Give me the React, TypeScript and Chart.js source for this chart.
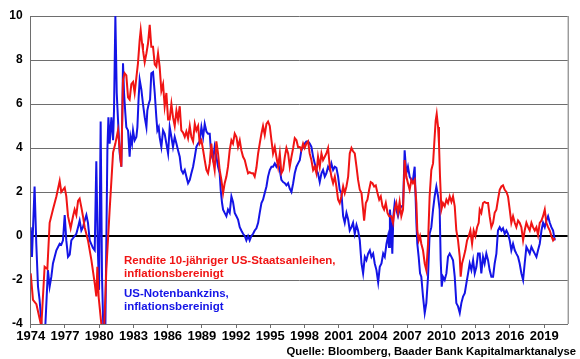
import { useEffect, useRef } from 'react';
import { Chart, registerables } from 'chart.js';
Chart.register(...registerables);

const tickYears = [1974, 1977, 1980, 1983, 1986, 1989, 1992, 1995, 1998, 2001, 2004, 2007, 2010, 2013, 2016, 2019];
const yTicks = [-4, -2, 0, 2, 4, 6, 8, 10];

const redYears = [
  1974.0, 1974.2, 1974.5, 1974.93, 1975.22, 1975.46, 1975.66, 1975.95, 1976.25, 1976.54, 1976.68, 1976.98,
  1977.12, 1977.27, 1977.5, 1977.71, 1977.85, 1978.0, 1978.15, 1978.29, 1978.44, 1978.58, 1978.73, 1979.02,
  1979.32, 1979.61, 1979.75, 1979.84, 1979.96, 1980.19, 1980.43, 1980.63, 1980.92, 1981.22, 1981.42, 1981.65,
  1981.8, 1981.94, 1982.09, 1982.23, 1982.38, 1982.53, 1982.67, 1982.82, 1982.97, 1983.11, 1983.26, 1983.4,
  1983.55, 1983.64, 1983.76, 1983.84, 1983.99, 1984.14, 1984.28, 1984.43, 1984.57, 1984.72, 1984.87, 1985.01,
  1985.16, 1985.3, 1985.45, 1985.6, 1985.74, 1985.89, 1986.04, 1986.18, 1986.33, 1986.47, 1986.62, 1986.77,
  1986.91, 1987.06, 1987.2, 1987.35, 1987.5, 1987.64, 1987.79, 1987.94, 1988.08, 1988.23, 1988.38, 1988.52,
  1988.67, 1988.81, 1988.96, 1989.11, 1989.25, 1989.4, 1989.54, 1989.69, 1989.83, 1989.98, 1990.12, 1990.27,
  1990.42, 1990.56, 1990.71, 1990.86, 1991.0, 1991.15, 1991.29, 1991.44, 1991.59, 1991.73, 1991.88, 1992.03,
  1992.17, 1992.32, 1992.46, 1992.61, 1992.76, 1992.9, 1993.05, 1993.19, 1993.34, 1993.49, 1993.63, 1993.78,
  1993.93, 1994.07, 1994.22, 1994.36, 1994.51, 1994.66, 1994.8, 1994.95, 1995.1, 1995.24, 1995.39, 1995.53,
  1995.68, 1995.83, 1995.97, 1996.12, 1996.27, 1996.41, 1996.56, 1996.7, 1996.85, 1997.0, 1997.14, 1997.29,
  1997.43, 1997.58, 1997.72, 1997.87, 1998.01, 1998.16, 1998.31, 1998.45, 1998.6, 1998.75, 1998.89, 1999.04,
  1999.18, 1999.33, 1999.48, 1999.62, 1999.77, 1999.91, 2000.06, 2000.21, 2000.35, 2000.5, 2000.65, 2000.79,
  2000.94, 2001.08, 2001.23, 2001.38, 2001.52, 2001.67, 2001.82, 2001.96, 2002.11, 2002.25, 2002.4, 2002.55,
  2002.69, 2002.84, 2002.99, 2003.13, 2003.22, 2003.37, 2003.51, 2003.66, 2003.8, 2003.95, 2004.1, 2004.24,
  2004.39, 2004.54, 2004.68, 2004.83, 2004.97, 2005.12, 2005.27, 2005.41, 2005.6, 2005.75, 2005.9, 2006.04,
  2006.19, 2006.33, 2006.48, 2006.63, 2006.77, 2006.92, 2007.06, 2007.21, 2007.36, 2007.5, 2007.65, 2007.8,
  2007.88, 2008.0, 2008.12, 2008.23, 2008.38, 2008.53, 2008.67, 2008.82, 2008.96, 2009.11, 2009.26, 2009.4,
  2009.49, 2009.58, 2009.7, 2009.78, 2009.87, 2009.99, 2010.13, 2010.28, 2010.43, 2010.57, 2010.72, 2010.87,
  2011.01, 2011.16, 2011.3, 2011.45, 2011.6, 2011.68, 2011.8, 2011.95, 2012.09, 2012.24, 2012.39, 2012.53,
  2012.68, 2012.82, 2012.97, 2013.12, 2013.26, 2013.35, 2013.49, 2013.64, 2013.78, 2013.93, 2014.08, 2014.22,
  2014.37, 2014.52, 2014.66, 2014.81, 2014.95, 2015.1, 2015.25, 2015.39, 2015.54, 2015.69, 2015.83, 2015.98,
  2016.12, 2016.27, 2016.42, 2016.56, 2016.71, 2016.85, 2017.0, 2017.15, 2017.29, 2017.44, 2017.59, 2017.73,
  2017.88, 2018.02, 2018.17, 2018.32, 2018.46, 2018.61, 2018.76, 2018.9, 2019.05, 2019.19, 2019.34, 2019.49,
  2019.63, 2019.78, 2019.93,
];
const redValues = [
  -1.7, -2.9, -3.1, -4.1, -1.4, -1.5, 0.6, 1.2, 1.8, 2.5, 2.0, 2.2,
  1.8, 0.9, 0.35, 0.9, 1.2, 0.95, 1.6, 1.7, 1.3, 0.9, 0.4, -0.2,
  -1.1, -2.15, -2.75, -1.4, -2.8, -4.0, -4.3, -1.5, 1.2, 3.8, 4.2, 4.8,
  3.9, 3.15, 7.1, 7.4, 7.3, 6.3, 6.2, 6.9, 7.0, 6.5, 7.2, 7.85,
  8.9, 9.35, 8.75, 8.45, 7.9, 8.3, 8.75, 9.6, 8.6, 8.6, 7.8, 7.7,
  8.3, 7.7, 6.6, 6.9, 5.9, 6.5, 5.3, 5.3, 6.0, 5.4, 5.0, 5.7,
  5.3, 5.9, 4.8, 4.7, 4.5, 4.75, 4.45, 5.0, 4.5, 4.3, 5.1, 4.8,
  5.0, 4.2, 4.35, 3.9, 3.45, 3.0, 2.85, 3.3, 4.2, 3.45, 3.0, 4.3,
  3.75, 3.0, 2.55, 1.95, 2.4, 2.7, 3.15, 3.9, 4.35, 4.2, 4.65, 4.5,
  4.05, 4.35, 3.9, 3.6, 3.45, 3.15, 2.85, 2.9, 2.85, 2.85, 2.7, 3.1,
  3.75, 4.2, 4.65, 5.0, 4.6, 5.1, 5.2, 5.0, 4.35, 3.75, 4.05, 3.6,
  3.15, 3.75, 2.85, 3.0, 3.6, 4.0, 3.75, 3.15, 3.6, 4.0, 4.45, 4.35,
  4.05, 4.05, 3.9, 4.2, 4.0, 4.2, 4.3, 3.75, 3.45, 3.0, 3.15, 2.85,
  3.6, 3.15, 3.75, 3.45, 3.6, 3.75, 4.0, 3.15, 2.7, 2.4, 2.7, 2.25,
  1.65, 1.5, 1.8, 2.25, 1.95, 2.25, 2.7, 3.75, 4.0, 3.85, 3.75, 3.15,
  2.55, 2.1, 1.95, 1.2, 0.7, 1.5, 1.65, 2.1, 2.45, 2.4, 2.25, 2.3,
  1.95, 1.65, 1.8, 1.35, 1.2, 1.5, 1.05, 0.9, 0.9, 0.6, 1.2, 1.5,
  1.05, 1.55, 0.9, 1.2, 3.45, 2.7, 2.4, 2.1, 2.55, 2.4, 2.55, 1.5,
  0.25, -0.2, 0.0, -0.35, -0.65, -1.25, -1.55, -0.35, 1.8, 3.0, 3.3, 4.5,
  5.25, 5.55, 4.95, 4.2, 2.7, 1.2, 1.5, 1.35, 1.65, 1.5, 1.8, 1.55,
  1.8, 1.35, 0.25, -0.2, -0.95, -1.85, -1.25, -0.95, -0.65, -0.2, 0.0, 0.25,
  -0.35, 0.25, 0.0, 0.4, 0.6, 1.2, 1.05, 1.5, 1.55, 1.5, 1.5, 0.9,
  0.4, 0.6, 1.05, 1.2, 1.65, 2.1, 2.25, 2.3, 2.1, 2.0, 1.8, 1.2,
  0.6, 0.9, 0.6, 0.4, 0.7, 0.6, 0.4, -0.2, 0.25, 0.6, 0.4, 0.25,
  0.6, 0.4, 0.25, 0.4, 0.05, 0.6, 0.7, 0.9, 1.2, 0.6, 0.4, 0.25,
  0.0, -0.2, -0.1,
];

const blueYears = [
  1974.0, 1974.11, 1974.34, 1974.49, 1974.64, 1974.78, 1974.99, 1975.28, 1975.51, 1975.66, 1975.81, 1975.95,
  1976.25, 1976.54, 1976.68, 1976.83, 1976.98, 1977.12, 1977.27, 1977.42, 1977.56, 1977.85, 1978.0, 1978.15,
  1978.29, 1978.44, 1978.58, 1978.73, 1978.88, 1979.02, 1979.17, 1979.46, 1979.61, 1979.75, 1979.87, 1979.99,
  1980.13, 1980.25, 1980.37, 1980.54, 1980.72, 1980.81, 1980.92, 1981.07, 1981.22, 1981.3, 1981.42, 1981.54,
  1981.65, 1981.8, 1981.94, 1982.03, 1982.09, 1982.18, 1982.29, 1982.38, 1982.53, 1982.67, 1982.76, 1982.88,
  1982.97, 1983.11, 1983.26, 1983.35, 1983.46, 1983.55, 1983.7, 1983.84, 1983.99, 1984.14, 1984.22, 1984.34,
  1984.46, 1984.57, 1984.72, 1984.87, 1985.01, 1985.1, 1985.22, 1985.3, 1985.45, 1985.6, 1985.74, 1985.89,
  1986.04, 1986.18, 1986.33, 1986.47, 1986.62, 1986.77, 1986.91, 1987.06, 1987.2, 1987.35, 1987.5, 1987.64,
  1987.79, 1987.94, 1988.08, 1988.23, 1988.38, 1988.52, 1988.67, 1988.81, 1988.96, 1989.11, 1989.25, 1989.4,
  1989.54, 1989.69, 1989.77, 1989.89, 1989.98, 1990.12, 1990.27, 1990.42, 1990.56, 1990.65, 1990.77, 1990.86,
  1991.0, 1991.15, 1991.29, 1991.44, 1991.59, 1991.73, 1991.88, 1992.03, 1992.17, 1992.32, 1992.46, 1992.61,
  1992.76, 1992.9, 1993.05, 1993.19, 1993.34, 1993.49, 1993.63, 1993.78, 1993.93, 1994.07, 1994.22, 1994.36,
  1994.51, 1994.66, 1994.8, 1994.95, 1995.1, 1995.24, 1995.39, 1995.53, 1995.68, 1995.83, 1995.97, 1996.12,
  1996.27, 1996.41, 1996.56, 1996.7, 1996.85, 1997.0, 1997.14, 1997.29, 1997.43, 1997.58, 1997.72, 1997.87,
  1998.01, 1998.16, 1998.31, 1998.45, 1998.6, 1998.75, 1998.89, 1999.04, 1999.18, 1999.33, 1999.48, 1999.62,
  1999.77, 1999.91, 2000.06, 2000.21, 2000.35, 2000.5, 2000.65, 2000.79, 2000.94, 2001.08, 2001.23, 2001.38,
  2001.52, 2001.67, 2001.82, 2001.96, 2002.11, 2002.25, 2002.4, 2002.55, 2002.69, 2002.84, 2002.99, 2003.13,
  2003.28, 2003.42, 2003.57, 2003.72, 2003.86, 2004.01, 2004.15, 2004.3, 2004.45, 2004.59, 2004.74, 2004.89,
  2005.03, 2005.18, 2005.32, 2005.4, 2005.48, 2005.6, 2005.69, 2005.78, 2005.9, 2006.04, 2006.19, 2006.33,
  2006.48, 2006.63, 2006.77, 2006.92, 2007.06, 2007.21, 2007.36, 2007.5, 2007.65, 2007.8, 2007.88, 2008.0,
  2008.12, 2008.23, 2008.38, 2008.53, 2008.67, 2008.82, 2008.96, 2009.11, 2009.26, 2009.4, 2009.55, 2009.7,
  2009.84, 2009.93, 2010.02, 2010.13, 2010.28, 2010.43, 2010.57, 2010.72, 2010.87, 2011.01, 2011.16, 2011.3,
  2011.45, 2011.6, 2011.74, 2011.89, 2012.04, 2012.18, 2012.33, 2012.47, 2012.62, 2012.77, 2012.91, 2013.06,
  2013.2, 2013.35, 2013.49, 2013.64, 2013.78, 2013.93, 2014.08, 2014.22, 2014.37, 2014.52, 2014.66, 2014.81,
  2014.95, 2015.1, 2015.25, 2015.39, 2015.54, 2015.69, 2015.83, 2015.98, 2016.12, 2016.27, 2016.42, 2016.56,
  2016.71, 2016.85, 2017.0, 2017.15, 2017.29, 2017.44, 2017.59, 2017.73, 2017.88, 2018.02, 2018.17, 2018.32,
  2018.46, 2018.61, 2018.76, 2018.9, 2019.05, 2019.19, 2019.34, 2019.49, 2019.63, 2019.78, 2019.93,
];
const blueValues = [
  0.4, -0.95, 2.25, -0.35, -2.3, -2.9, -4.3, -4.1, -1.55, -2.3, -1.85, -1.25,
  -0.65, -0.35, -0.4, -0.2, 0.95, -0.2, -0.95, -0.85, -0.2, 0.0, 0.1, 0.4,
  0.7, 0.25, 0.4, 0.7, 0.95, 0.6, -0.2, -0.55, -0.65, 3.4, -0.35, -2.45,
  5.2, -1.85, -4.3, -4.3, 3.9, 5.4, 4.2, 5.4, 4.35, 5.7, 10.0, 6.5,
  5.3, 3.75, 3.15, 5.7, 7.85, 6.5, 5.6, 4.95, 4.8, 3.6, 4.5, 4.2,
  4.8, 4.35, 4.5, 4.95, 6.3, 7.1, 6.65, 6.0, 5.4, 4.95, 5.7, 6.0,
  6.2, 7.4, 7.45, 6.5, 5.4, 4.8, 4.95, 4.5, 4.05, 4.8, 4.65, 4.2,
  3.75, 4.95, 4.5, 4.05, 4.5, 4.2, 3.9, 3.6, 3.0, 2.85, 3.0, 2.7,
  2.4, 2.55, 2.85, 3.15, 3.6, 4.05, 4.2, 4.3, 4.95, 4.5, 5.1, 4.75,
  4.65, 4.65, 4.05, 3.6, 3.45, 4.05, 3.6, 3.15, 2.85, 2.1, 1.5, 1.2,
  1.05, 0.9, 1.2, 1.05, 1.8, 1.55, 1.05, 0.9, 0.75, 0.4, 0.25, 0.1,
  0.0, -0.2, 0.0, -0.2, 0.0, 0.1, 0.25, 0.35, 0.6, 1.05, 1.5, 1.65,
  1.95, 2.25, 2.7, 3.0, 3.15, 3.15, 3.3, 3.15, 3.3, 3.0, 2.55, 2.45,
  2.4, 2.3, 2.4, 2.15, 2.0, 2.4, 2.85, 3.15, 3.3, 3.45, 3.9, 4.05,
  4.2, 4.3, 4.3, 4.2, 4.05, 3.6, 3.3, 3.0, 2.85, 2.45, 2.85, 3.0,
  2.7, 2.85, 3.15, 3.0, 3.3, 3.0, 3.15, 3.1, 2.7, 2.1, 1.95, 0.9,
  0.6, 1.05, 0.75, 0.25, 0.4, 0.6, 0.1, 0.5, 0.25, -0.2, -1.25, -1.7,
  -0.95, -1.1, -0.8, -0.65, -0.95, -0.8, -1.25, -1.55, -2.1, -1.4, -1.25, -0.8,
  -0.95, -0.35, 0.0, -0.5, 1.2, 0.4, -0.8, 0.9, 1.5, 1.2, 0.9, 1.2,
  1.35, 1.35, 3.9, 2.85, 3.15, 2.7, 2.55, 2.55, 3.15, 0.6, -0.35, -0.95,
  -1.7, -1.85, -2.75, -3.5, -3.05, -1.85, 0.1, 0.4, 1.2, 1.8, 2.25, 1.8,
  1.2, -1.1, -2.3, -1.85, -2.0, -1.7, -0.95, -0.8, -0.95, -1.1, -1.85, -3.05,
  -3.2, -3.5, -3.05, -2.75, -2.6, -2.15, -1.7, -1.25, -1.55, -1.1, -1.7, -1.4,
  -0.8, -0.8, -1.7, -0.95, -1.25, -0.8, -1.1, -1.55, -1.85, -1.85, -1.25, -0.8,
  0.25, 0.4, 0.25, 0.35, 0.1, 0.25, 0.1, -0.2, -0.65, -0.35, -0.65, -0.8,
  -0.95, -1.25, -1.7, -2.0, -1.25, -0.5, -0.65, -0.8, -0.5, -0.65, -0.8, -0.95,
  -0.65, -0.35, 0.25, 0.6, 0.4, 0.7, 0.9, 0.6, 0.4, 0.25, -0.2,
];

const redLabel = ['Rendite 10-jähriger US-Staatsanleihen,', 'inflationsbereinigt'];
const blueLabel = ['US-Notenbankzins,', 'inflationsbereinigt'];
const sourceText = 'Quelle: Bloomberg, Baader Bank Kapitalmarktanalyse';

const RED = '#f01414';
const BLUE = '#1414e6';
const GRID = '#6e6e6e';
const FONT = '"Liberation Sans", Arial, Helvetica, sans-serif';

const textPlugin = {
  id: 'annotations',
  afterDraw(chart: any) {
    const ctx = chart.ctx as CanvasRenderingContext2D;
    const { chartArea } = chart;
    ctx.save();
    // right border of plot
    ctx.strokeStyle = GRID;
    ctx.lineWidth = 1;
    ctx.beginPath();
    ctx.moveTo(chartArea.right + 0.5, chartArea.top);
    ctx.lineTo(chartArea.right + 0.5, chartArea.bottom);
    ctx.stroke();

    ctx.font = `bold 11.5px ${FONT}`;
    ctx.textAlign = 'left';
    ctx.textBaseline = 'alphabetic';
    ctx.fillStyle = RED;
    ctx.fillText(redLabel[0], 124, 263.5);
    ctx.fillText(redLabel[1], 124, 276.5);
    ctx.fillStyle = BLUE;
    ctx.fillText(blueLabel[0], 124, 296.8);
    ctx.fillText(blueLabel[1], 124, 309.5);

    ctx.font = `bold 11.3px ${FONT}`;
    ctx.fillStyle = '#000';
    ctx.textAlign = 'right';
    ctx.fillText(sourceText, 576, 355);
    ctx.restore();
  },
};

export default function App() {
  const ref = useRef<HTMLCanvasElement>(null);
  useEffect(() => {
    document.body.style.margin = '0';
    Chart.defaults.font.family = FONT;
    const chart = new Chart(ref.current as HTMLCanvasElement, {
      type: 'line',
      data: {
        datasets: [
          {
            label: redLabel.join(' '),
            data: redYears.map((x, i) => ({ x, y: redValues[i] })),
            borderColor: RED,
            backgroundColor: RED,
            borderWidth: 2,
            pointRadius: 0,
            tension: 0,
            clip: 0,
          },
          {
            label: blueLabel.join(' '),
            data: blueYears.map((x, i) => ({ x, y: blueValues[i] })),
            borderColor: BLUE,
            backgroundColor: BLUE,
            borderWidth: 2,
            pointRadius: 0,
            tension: 0,
            clip: 0,
          },
        ],
      },
      options: {
        responsive: false,
        animation: false,
        layout: { padding: { top: 16, right: 12.3, bottom: 0, left: 0 } },
        plugins: { legend: { display: false }, tooltip: { enabled: false } },
        scales: {
          x: {
            type: 'linear',
            min: 1974,
            max: 2021.06,
            afterBuildTicks: (s: any) => {
              s.ticks = tickYears.map((v) => ({ value: v }));
            },
            afterFit: (s: any) => {
              s.height = 35;
            },
            grid: { drawOnChartArea: false, drawTicks: true, tickLength: 4, color: GRID },
            border: { display: true, color: GRID, width: 1 },
            ticks: {
              callback: (v: any) => String(v),
              font: { size: 13, weight: 'bold' },
              color: '#000',
              padding: 1,
              maxRotation: 0,
              autoSkip: false,
            },
          },
          y: {
            min: -4,
            max: 10,
            afterBuildTicks: (s: any) => {
              s.ticks = yTicks.map((v) => ({ value: v }));
            },
            afterFit: (s: any) => {
              s.width = 30.7;
            },
            grid: {
              drawTicks: false,
              color: (c: any) => (c.tick && c.tick.value === 0 ? '#000' : GRID),
              lineWidth: (c: any) => (c.tick && c.tick.value === 0 ? 2 : 1),
            },
            border: { display: true, color: GRID, width: 1 },
            ticks: {
              font: { size: 12, weight: 'bold' },
              color: '#000',
              padding: 8,
            },
          },
        },
      },
      plugins: [textPlugin],
    } as any);
    return () => chart.destroy();
  }, []);
  return <canvas ref={ref} width={580} height={359} style={{ display: 'block' }} />;
}
